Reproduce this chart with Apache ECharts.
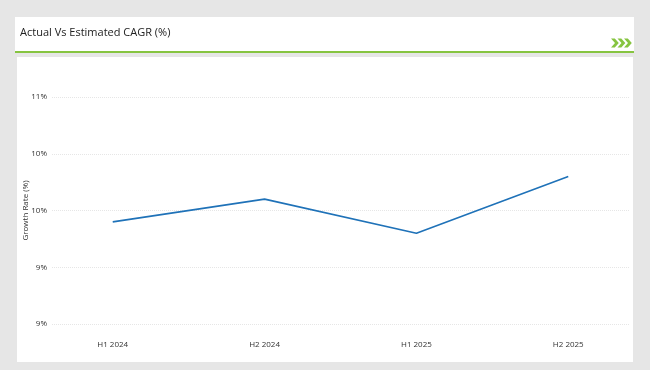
<!DOCTYPE html>
<html><head><meta charset="utf-8">
<script src="https://cdn.jsdelivr.net/npm/echarts@6/dist/echarts.min.js"></script>
<style>html,body{margin:0;padding:0;background:#e6e6e6}#c{width:650px;height:370px}</style>
</head><body><div id="c"></div>
<script>
const categories = ['H1 2024', 'H2 2024', 'H1 2025', 'H2 2025'];
const growthRate = [9.4, 9.6, 9.3, 9.8];
const yTicks = [8.5, 9, 9.5, 10, 10.5];
const yTickLabels = ['9%', '9%', '10%', '10%', '11%'];
const titleText = 'Actual Vs Estimated CAGR (%)';
const yAxisName = 'Growth Rate (%)';

const FONT = 'Open Sans';
const chart = echarts.init(document.getElementById('c'), null, {renderer: 'canvas'});
const chev = (x) => ({
  type: 'polygon', z: -5,
  shape: {points: [[x, 38.5], [x + 3.8, 38.5], [x + 7.8, 43], [x + 3.8, 47.5], [x, 47.5], [x + 4, 43]]},
  style: {fill: '#86c440'}
});
chart.setOption({
  backgroundColor: '#e6e6e6',
  animation: false,
  graphic: [
    {type: 'rect', z: -10, shape: {x: 15, y: 17, width: 619, height: 35}, style: {fill: '#ffffff'}},
    {type: 'rect', z: -9, shape: {x: 15, y: 51, width: 619, height: 2}, style: {fill: '#86c440'}},
    {type: 'rect', z: -10, shape: {x: 17, y: 57, width: 616, height: 305}, style: {fill: '#ffffff'}},
    {type: 'text', z: -5, x: 20, y: 32.5, style: {text: titleText, fill: '#222', font: '11px "' + FONT + '"', textVerticalAlign: 'middle'}},
    chev(611), chev(617.5), chev(624)
  ],
  grid: {left: 52, right: 21, top: 97, bottom: 46, containLabel: false},
  xAxis: {
    type: 'value', min: -0.4, max: 3.4,
    axisLine: {show: false}, axisTick: {show: false}, splitLine: {show: false},
    axisLabel: {
      customValues: categories.map((c, i) => i),
      formatter: (v) => categories[Math.round(v)],
      color: '#333', fontFamily: FONT, fontSize: 8, margin: 17
    }
  },
  yAxis: {
    type: 'value', min: yTicks[0], max: yTicks[yTicks.length - 1], interval: 0.5,
    name: yAxisName, nameLocation: 'middle', nameGap: 22, nameMoveOverlap: false,
    nameTextStyle: {color: '#333', fontFamily: FONT, fontSize: 8},
    axisLine: {show: false}, axisTick: {show: false},
    axisLabel: {
      formatter: (v) => yTickLabels[yTicks.indexOf(v)] ?? '',
      color: '#333', fontFamily: FONT, fontSize: 8, margin: 5
    },
    splitLine: {show: true, lineStyle: {color: '#e6e6e6', type: 'dotted', width: 1}}
  },
  series: [{
    type: 'line',
    data: growthRate.map((v, i) => [i, v]),
    symbol: 'none',
    lineStyle: {color: '#1f72b8', width: 1.6},
    itemStyle: {color: '#1f72b8'}
  }]
});
</script></body></html>
